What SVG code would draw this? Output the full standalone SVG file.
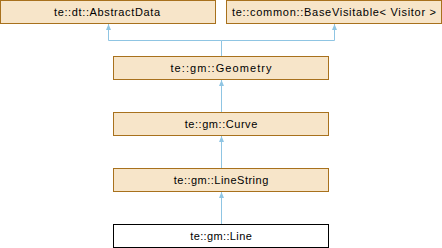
<svg xmlns="http://www.w3.org/2000/svg" width="442" height="248" viewBox="0 0 442 248">
<style>
.n rect{fill:#F7E5C9;stroke:#A8711D;stroke-width:1}
.n.cur rect{fill:#FFFFFF;stroke:#000000}
.n text{font-family:"Liberation Sans",Arial,sans-serif;font-size:11px;fill:#000;text-anchor:middle}
.e{stroke:#8FC5E3;stroke-width:1;fill:none}
</style>
<defs>
<marker id="ah" viewBox="0 0 6 6" refX="6" refY="3" markerWidth="6" markerHeight="6" markerUnits="userSpaceOnUse" orient="auto">
<path d="M0,0.5 L6,3 L0,5.5 z" fill="#8FC5E3"/>
</marker>
</defs>
<g id="connectors">
<path class="e" d="M221.5,56 V40.5 H108.5 V24" marker-end="url(#ah)"/>
<path class="e" d="M221.5,40.5 H334.5 V24" marker-end="url(#ah)"/>
<path class="e" d="M221.5,112 V80" marker-end="url(#ah)"/>
<path class="e" d="M221.5,168 V136" marker-end="url(#ah)"/>
<path class="e" d="M221.5,224 V192" marker-end="url(#ah)"/>
</g>
<g id="abstractdata" class="n"><rect x="0.5" y="0.5" width="215" height="23"/><text x="107" y="16" textLength="106" lengthAdjust="spacing">te::dt::AbstractData</text></g>
<g id="basevisitable" class="n"><rect x="226.5" y="0.5" width="215" height="23"/><text x="334" y="16" textLength="204" lengthAdjust="spacing">te::common::BaseVisitable&lt; Visitor &gt;</text></g>
<g id="geometry" class="n"><rect x="113.5" y="56.5" width="215" height="23"/><text x="221" y="72" textLength="101" lengthAdjust="spacing">te::gm::Geometry</text></g>
<g id="curve" class="n"><rect x="113.5" y="112.5" width="215" height="23"/><text x="221" y="128" textLength="72.5" lengthAdjust="spacing">te::gm::Curve</text></g>
<g id="linestring" class="n"><rect x="113.5" y="168.5" width="215" height="23"/><text x="221" y="184" textLength="94.5" lengthAdjust="spacing">te::gm::LineString</text></g>
<g id="line" class="n cur"><rect x="113.5" y="224.5" width="215" height="23"/><text x="221" y="240" textLength="61.5" lengthAdjust="spacing">te::gm::Line</text></g>
</svg>
